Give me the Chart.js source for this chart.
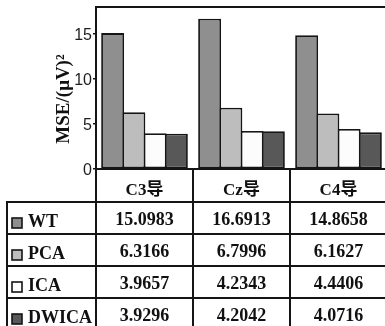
<!DOCTYPE html>
<html>
<head>
<meta charset="utf-8">
<script src="https://cdn.jsdelivr.net/npm/chart.js@4.4.1/dist/chart.umd.min.js"></script>
<style>
  html, body { margin: 0; padding: 0; overflow: hidden; background: #fff; }
  canvas { display: block; }
</style>
</head>
<body>
<canvas id="chart" width="388" height="326"></canvas>
<script>
// Channels (table header) and methods (series / table rows)
const channels = ['C3导', 'Cz导', 'C4导'];
const methods = ['WT', 'PCA', 'ICA', 'DWICA'];

// Mean squared error per channel, one array per method
const wtValues = [15.0983, 16.6913, 14.8658];
const pcaValues = [6.3166, 6.7996, 6.1627];
const icaValues = [3.9657, 4.2343, 4.4406];
const dwicaValues = [3.9296, 4.2042, 4.0716];

// Y axis
const yTicks = [0, 5, 10, 15];
const yMax = 18;
const yTitle = 'MSE/(μV)²';

const seriesValues = [wtValues, pcaValues, icaValues, dwicaValues];
const fills = ['#8f8f8f', '#bdbdbd', '#fcfcfc', '#585858'];
const LINE = '#151515';
const SERIF = '"Liberation Serif", "Times New Roman", "Noto Sans CJK SC", serif';

// Draws the frame, the y title and the data table under the bars
const dataTable = {
  id: 'dataTable',
  afterDraw(chart) {
    const { ctx, chartArea: a, scales: { x } } = chart;
    const W = chart.width, H = chart.height;
    const labelLeft = 7;
    const headerH = 33, rowH = 32;
    const colW = a.width / channels.length;

    ctx.save();
    ctx.strokeStyle = LINE;
    ctx.lineWidth = 2;
    const seg = (x1, y1, x2, y2) => {
      ctx.beginPath(); ctx.moveTo(x1, y1); ctx.lineTo(x2, y2); ctx.stroke();
    };

    // plot frame: top edge, left axis, baseline
    seg(a.left, a.top, W, a.top);
    seg(a.left, a.top - 1, a.left, H);
    seg(a.left, a.bottom, W, a.bottom);

    // column dividers
    for (let i = 1; i < channels.length; i++) {
      const cx = a.left + colW * i;
      seg(cx, a.bottom, cx, H);
    }

    // row lines and label column edge
    const firstRow = a.bottom + headerH;
    seg(labelLeft, firstRow, labelLeft, H);
    for (let r = 0; r < methods.length; r++) {
      const y = firstRow + r * rowH;
      seg(labelLeft - 1, y, W, y);
    }

    // header
    ctx.fillStyle = '#111';
    ctx.textAlign = 'center';
    ctx.textBaseline = 'alphabetic';
    ctx.font = 'bold 17px ' + SERIF;
    channels.forEach((c, i) => {
      ctx.fillText(c, x.getPixelForValue(i), a.bottom + 26);
    });

    // rows: legend swatch, method name, values
    methods.forEach((m, r) => {
      const top = firstRow + r * rowH;
      ctx.fillStyle = fills[r];
      ctx.fillRect(12, top + 16, 10, 10);
      ctx.lineWidth = 1.6;
      ctx.strokeRect(12, top + 16, 10, 10);

      ctx.fillStyle = '#111';
      ctx.textAlign = 'left';
      ctx.font = 'bold 18px ' + SERIF;
      ctx.fillText(m, 28, top + 25);

      ctx.textAlign = 'center';
      ctx.font = 'bold 18px ' + SERIF;
      seriesValues[r].forEach((v, i) => {
        ctx.fillText(v.toFixed(4), x.getPixelForValue(i), top + 23);
      });
    });

    // rotated y axis title
    ctx.translate(64, 99);
    ctx.rotate(-Math.PI / 2);
    ctx.textAlign = 'center';
    ctx.textBaseline = 'middle';
    ctx.font = 'bold 19px ' + SERIF;
    ctx.fillStyle = '#111';
    ctx.fillText(yTitle, 0, 0);
    ctx.restore();
  }
};

new Chart(document.getElementById('chart'), {
  type: 'bar',
  data: {
    labels: channels,
    datasets: methods.map((m, i) => ({
      label: m,
      data: seriesValues[i],
      backgroundColor: fills[i],
      borderColor: LINE,
      borderWidth: 1.8,
      borderSkipped: false,
      barPercentage: 1.08,
      categoryPercentage: 0.876
    }))
  },
  options: {
    responsive: false,
    animation: false,
    devicePixelRatio: 1,
    layout: { padding: { top: 7, bottom: 157, left: 0, right: 1 } },
    plugins: { legend: { display: false }, tooltip: { enabled: false } },
    scales: {
      x: {
        type: 'category',
        ticks: { display: false },
        grid: { display: false },
        border: { display: false },
        afterFit(scale) { scale.height = 0; }
      },
      y: {
        min: 0,
        max: yMax,
        afterBuildTicks(scale) {
          scale.ticks = yTicks.map(v => ({ value: v }));
        },
        afterFit(scale) {
          scale.width = 96;
          scale.paddingTop = 0;
          scale.paddingBottom = 0;
        },
        ticks: {
          color: '#1e1e1e',
          padding: 1,
          labelOffset: 2,
          font: { family: '"Liberation Sans", Arial, sans-serif', size: 16 }
        },
        grid: {
          display: true,
          drawOnChartArea: false,
          drawTicks: true,
          tickLength: 3,
          color: LINE,
          lineWidth: 1.5
        },
        border: { display: false }
      }
    }
  },
  plugins: [dataTable]
});
</script>
</body>
</html>
